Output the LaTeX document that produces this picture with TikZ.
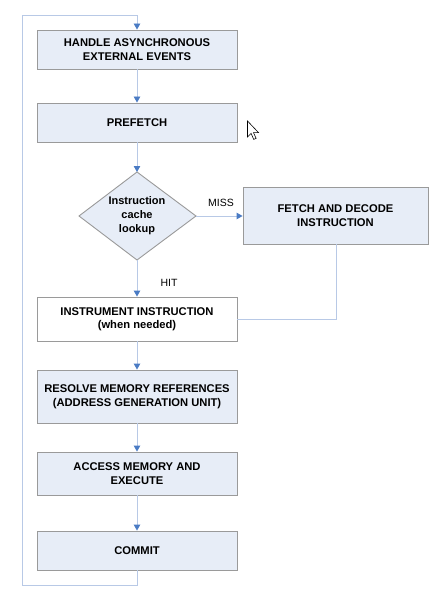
\documentclass[tikz,border=0pt]{standalone}
\usepackage{fontspec}
\setmainfont{Liberation Sans}
\usetikzlibrary{arrows.meta}
\definecolor{boxfill}{HTML}{E7EDF7}
\definecolor{boxline}{HTML}{9A9A9A}
\definecolor{conn}{HTML}{B8C9E6}
\definecolor{tipc}{HTML}{4A7BC4}
\tikzset{
  stepbox/.style={draw=boxline, line width=0.9pt, fill=boxfill, minimum width=200pt, align=center, font=\fontsize{11.2}{13.5}\selectfont\bfseries, inner sep=0pt},
  conline/.style={draw=conn, line width=0.9pt},
  arr/.style={conline, -{Triangle[length=6pt,width=6.5pt,fill=tipc,color=tipc]}},
  lbl/.style={font=\fontsize{10.5}{12}\selectfont, inner sep=0pt}
}
\begin{document}
\begin{tikzpicture}[x=1pt,y=-1pt]
\useasboundingbox (0,0) rectangle (446,607);
\node[stepbox, minimum height=39pt] (h1) at (137,49.5) {HANDLE ASYNCHRONOUS\\EXTERNAL EVENTS};
\node[stepbox, minimum height=39pt] (pf) at (137,122.5) {PREFETCH};
\coordinate (dt) at (137,172);
\coordinate (db) at (137,260);
\coordinate (dl) at (79,216);
\coordinate (dr) at (196,216);
\path[draw=boxline, line width=0.9pt, fill=boxfill] (dt) -- (dr) -- (db) -- (dl) -- cycle;
\node[align=center, font=\fontsize{11}{14}\selectfont\bfseries, inner sep=0pt] (dx) at (137,216) {Instruction\\cache\\lookup};
\node[stepbox, minimum width=185pt, minimum height=57pt] (fd) at (335.5,215.5) {FETCH AND DECODE\\INSTRUCTION};
\node[stepbox, fill=white, minimum height=44pt] (ii) at (137,319) {INSTRUMENT INSTRUCTION\\(when needed)};
\node[stepbox, minimum height=53pt] (rm) at (137,396.5) {RESOLVE MEMORY REFERENCES\\(ADDRESS GENERATION UNIT)};
\node[stepbox, minimum height=43pt] (am) at (137,473.5) {ACCESS MEMORY AND\\EXECUTE};
\node[stepbox, minimum height=39pt] (cm) at (137,550.5) {COMMIT};
\coordinate (fdb) at (336,319);
\coordinate (lp1) at (137,585);
\coordinate (lp2) at (22,585);
\coordinate (lp3) at (22,15);
\coordinate (lp4) at (137,15);
\draw[arr] (h1.south) -- (pf.north);
\draw[arr] (pf.south) -- (dt);
\draw[arr] (dr) -- (fd.west |- dr);
\draw[arr] (db) -- (ii.north);
\draw[conline] (fd.south -| fdb) -- (fdb) -- (ii.east |- fdb);
\draw[arr] (ii.south) -- (rm.north);
\draw[arr] (rm.south) -- (am.north);
\draw[arr] (am.south) -- (cm.north);
\draw[arr] (cm.south) -- (lp1) -- (lp2) -- (lp3) -- (lp4) -- (h1.north);
\node[lbl] (miss) at (221,203) {MISS};
\node[lbl] (hit) at (169,283) {HIT};
% mouse cursor
\coordinate (cur) at (247.5,121);
\draw[fill=white, line width=0.6pt, line join=miter] (cur) -- ++(0,16) -- ++(3.6,-3.6) -- ++(2.6,6) -- ++(2.4,-1) -- ++(-2.6,-5.8) -- ++(5,0) -- cycle;
\end{tikzpicture}
\end{document}
